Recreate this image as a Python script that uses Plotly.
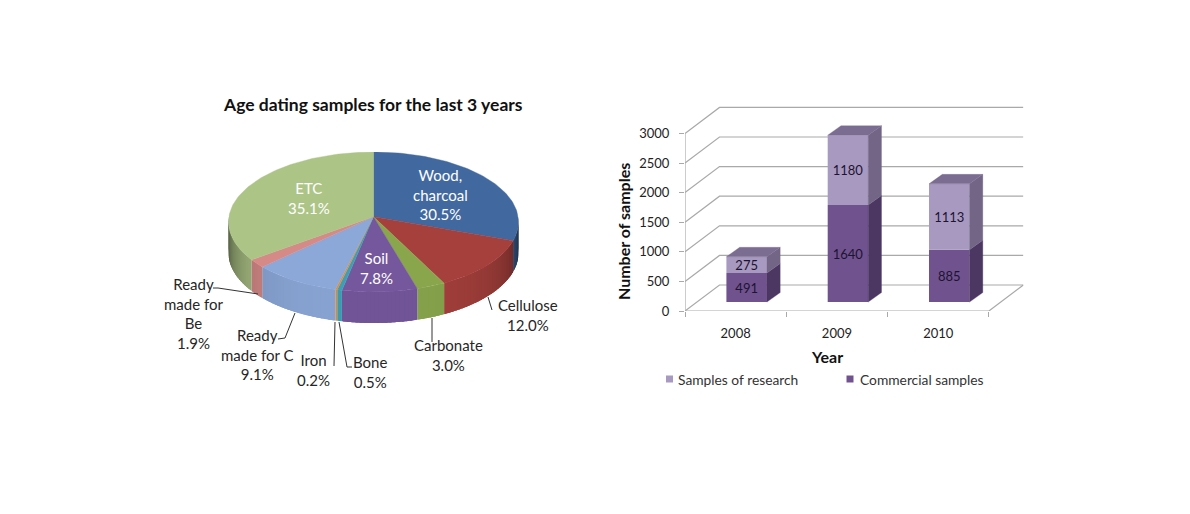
import math
import plotly.graph_objects as go

# ---------- data ----------
pie_names = ["Wood,<br>charcoal", "Cellulose", "Carbonate", "Soil", "Bone", "Iron",
             "Ready<br>made for C", "Ready<br>made for<br>Be", "ETC"]
pie_values = [30.5, 12.0, 3.0, 7.8, 0.5, 0.2, 9.1, 1.9, 35.1]
pie_colors = ["#41699f", "#a5403c", "#8aa64d", "#74579c", "#3b9fb8", "#e08e3c",
              "#8ca8d8", "#d68a88", "#adc487"]

years = ["2008", "2009", "2010"]
commercial = [491, 1640, 885]
research = [275, 1180, 1113]
y_ticks = [0, 500, 1000, 1500, 2000, 2500, 3000]

W, H = 1190, 514
PLOT_H = 506   # Plotly reserves 8px at the bottom of this page
FONT = "Lato"
DARK = "#222222"


def px(x):
    return x / W


def py(y):
    return 1 - y / PLOT_H


def rgb(c, f=1.0):
    r, g, b = int(c[1:3], 16), int(c[3:5], 16), int(c[5:7], 16)
    return f"rgb({int(r*f)},{int(g*f)},{int(b*f)})"


fig = go.Figure()

# ---------- pie (unit-circle space, squeezed by the axis domain) ----------
DEPTH = 31 / 70      # rim depth in radius units
APEX = 0.076         # apex is slightly above the ellipse centre (perspective)
total = sum(pie_values)


def rim(t):
    """Where the ray from the apex at angle t meets the rim."""
    dx, dy = math.sin(t), math.cos(t)
    s = -APEX * dy + math.sqrt((APEX * dy) ** 2 + 1 - APEX ** 2)
    return s * dx, APEX + s * dy


edges = [0]
for v in pie_values:
    edges.append(edges[-1] + v / total * 2 * math.pi)

# side wall, in overlapping strips so the shading can vary round the rim
OVERLAP = math.radians(1.2)
for i, c in enumerate(pie_colors):
    a, b = max(edges[i], math.pi / 2), min(edges[i + 1], 3 * math.pi / 2)
    if a >= b:
        continue
    n = max(1, int((b - a) / math.radians(1.5)))
    ordered = range(n) if a + b < 2 * math.pi else range(n - 1, -1, -1)
    for k in ordered:
        t0, t1 = a + (b - a) * k / n, a + (b - a) * (k + 1) / n
        phi = abs((t0 + t1) / 2 - math.pi) / (math.pi / 2)
        col = rgb(c, 0.97 - 0.72 * phi ** 3.5)
        t0 = max(a, t0 - OVERLAP)
        t1 = min(b, t1 + OVERLAP)
        x0, y0 = rim(t0)
        x1, y1 = rim(t1)
        fig.add_trace(go.Scatter(
            x=[x0, x1, x1, x0, x0], y=[y0, y1, y1 - DEPTH, y0 - DEPTH, y0],
            mode="none", fill="toself", fillcolor=col,
            hoverinfo="skip", showlegend=False, xaxis="x", yaxis="y"))

# top face
for i, c in enumerate(pie_colors):
    n = max(2, int((edges[i + 1] - edges[i]) / math.radians(1.5)))
    ts = [edges[i] + (edges[i + 1] - edges[i]) * k / n for k in range(n + 1)]
    xs = [0] + [rim(t)[0] for t in ts] + [0]
    ys = [APEX] + [rim(t)[1] for t in ts] + [APEX]
    fig.add_trace(go.Scatter(
        x=xs, y=ys, mode="lines", fill="toself", fillcolor=c,
        line=dict(color=c, width=0.4), name=pie_names[i].replace("<br>", " "),
        showlegend=False, xaxis="x", yaxis="y"))

# ---------- stacked bars ----------
UNIT_X = 101.3                  # pixels per category
UNIT_Y = 0.0592                 # pixels per sample
WALL_DX, WALL_DY = 34.5 / UNIT_X, 26 / UNIT_Y
BAR_DX, BAR_DY = 13.3 / UNIT_X, 9.5 / UNIT_Y
FLOOR = 150                     # bars stand part-way back on the floor
BAR_SHIFT, BAR_W = 11 / UNIT_X, 40.5 / UNIT_X
GRID = "#a9a9a9"
xpos = list(range(len(years)))
xleft, xright = -0.5, len(years) - 0.5

# walls and floor
for t in y_ticks:
    fig.add_trace(go.Scatter(
        x=[xleft, xleft + WALL_DX, xright + WALL_DX], y=[t, t + WALL_DY, t + WALL_DY],
        mode="lines", line=dict(color=GRID, width=1.2), hoverinfo="skip",
        showlegend=False, xaxis="x2", yaxis="y2", zorder=1))
fig.add_trace(go.Scatter(
    x=[xleft, xleft, None, xleft, xright, xright + WALL_DX],
    y=[max(y_ticks), 0, None, 0, 0, WALL_DY],
    mode="lines", line=dict(color=GRID, width=1.2), hoverinfo="skip",
    showlegend=False, xaxis="x2", yaxis="y2", zorder=1))

series = [("Commercial samples", commercial, "#70528f", "#4b3762"),
          ("Samples of research", research, "#a899c1", "#726586")]
base = [FLOOR] * len(years)
for name, vals, front, side in series:
    bx = [x + BAR_SHIFT for x in xpos]
    fig.add_trace(go.Bar(
        x=bx, y=vals, base=base, width=BAR_W, name=name, marker=dict(color=front, line_width=0),
        text=[str(v) for v in vals], textposition="inside", insidetextanchor="middle",
        textangle=0, constraintext="none",
        textfont=dict(family=FONT, size=13, color="#1d1430"),
        showlegend=False, xaxis="x2", yaxis="y2", zorder=2))
    for x, v, b in zip(bx, vals, base):
        r = x + BAR_W / 2
        fig.add_trace(go.Scatter(
            x=[r, r + BAR_DX, r + BAR_DX, r, r],
            y=[b, b + BAR_DY, b + v + BAR_DY, b + v, b],
            mode="lines", fill="toself", fillcolor=side, line=dict(color=side, width=0.3),
            hoverinfo="skip", showlegend=False, xaxis="x2", yaxis="y2", zorder=3))
    base = [b + v for b, v in zip(base, vals)]
for x, b in zip(xpos, base):
    l, r = x + BAR_SHIFT - BAR_W / 2, x + BAR_SHIFT + BAR_W / 2
    fig.add_trace(go.Scatter(
        x=[l, r, r + BAR_DX, l + BAR_DX, l], y=[b, b, b + BAR_DY, b + BAR_DY, b],
        mode="lines", fill="toself", fillcolor="#7b6c91", line=dict(color="#7b6c91", width=0.3),
        hoverinfo="skip", showlegend=False, xaxis="x2", yaxis="y2", zorder=3))

# ---------- text ----------
ann = []


def label(x, y, text, size=15, color="#262626", bold=False, angle=0):
    ann.append(dict(xref="paper", yref="paper", x=px(x), y=py(y), text=f"<b>{text}</b>" if bold else text,
                    showarrow=False, xanchor="center", yanchor="middle", align="center",
                    textangle=angle, font=dict(family=FONT, size=size, color=color)))


label(372.5, 104, "Age dating samples for the last 3 years", size=17.5, color="#111111", bold=True)


def pct(i):
    return f"{pie_values[i]:.1f}%"


pie_label_pos = [(440, 194, "white"), (528, 315, "#262626"), (448, 355, "#262626"), (376, 268, "white"),
                 (370, 372, "#262626"), (313, 370, "#262626"), (257, 354, "#262626"),
                 (193, 313, "#262626"), (309, 198, "white")]
for i, (x, y, c) in enumerate(pie_label_pos):
    label(x, y, pie_names[i] + "<br>" + pct(i), color=c)

label(623, 232, "Number of samples", size=16, color="#111111", bold=True, angle=-90)
label(827, 356, "Year", size=16, color="#111111", bold=True)

# hand-made legend row
shapes = []
for sx, tx, (name, col) in zip([669.5, 850], [676, 858],
                               [("Samples of research", "#a899c1"), ("Commercial samples", "#70528f")]):
    shapes.append(dict(type="rect", xref="paper", yref="paper", x0=px(sx - 3.5), x1=px(sx + 3.5),
                       y0=py(379 + 3.5), y1=py(379 - 3.5), fillcolor=col, line_width=0))
    ann.append(dict(xref="paper", yref="paper", x=px(tx), y=py(379), text=name, showarrow=False,
                    xanchor="left", yanchor="middle", font=dict(family=FONT, size=13.8, color="#333333")))

# leader lines
leaders = [[(213, 288), (218, 288), (258, 294)],
           [(278, 339), (285, 338), (295, 313)],
           [(334, 366), (335, 322)],
           [(352, 367), (347, 367), (339, 322)],
           [(432, 318), (432, 342)],
           [(488, 297), (492, 310)]]
for pts in leaders:
    for (x0, y0), (x1, y1) in zip(pts, pts[1:]):
        shapes.append(dict(type="line", xref="paper", yref="paper", x0=px(x0), y0=py(y0), x1=px(x1), y1=py(y1),
                           line=dict(color="#333333", width=1)))

# ---------- layout ----------
PIE_TOP, PIE_BOT = 152, 292
PIE_LOW = -1.6
pie_low_px = PIE_BOT + (-1 - PIE_LOW) * (PIE_BOT - PIE_TOP) / 2
Y_ZERO, Y_TOP = 311, 100

fig.update_layout(
    width=W, height=H, margin=dict(l=0, r=0, t=0, b=0),
    paper_bgcolor="white", plot_bgcolor="white", showlegend=False, barmode="overlay",
    font=dict(family=FONT),
    annotations=ann, shapes=shapes,
    xaxis=dict(domain=[px(228.5), px(518.5)], range=[-1, 1], visible=False, fixedrange=True),
    yaxis=dict(domain=[py(pie_low_px), py(PIE_TOP)], range=[PIE_LOW, 1], visible=False, fixedrange=True),
    xaxis2=dict(domain=[px(685), px(685 + 3 * UNIT_X + 34.5)], range=[xleft, xright + WALL_DX],
                tickmode="array", tickvals=xpos, ticktext=years, ticks="", showgrid=False, zeroline=False,
                showline=False, anchor="y2", ticklabelstandoff=13,
                tickfont=dict(family=FONT, size=13, color=DARK),
                minor=dict(tickmode="array", tickvals=[-0.5, 0.5, 1.5, 2.5], ticks="outside", ticklen=5,
                           tickcolor=GRID, tickwidth=1, showgrid=False)),
    yaxis2=dict(domain=[py(Y_ZERO), py(Y_TOP)], range=[0, (Y_ZERO - Y_TOP) / UNIT_Y],
                tickmode="array", tickvals=y_ticks, ticks="outside", ticklen=5, tickcolor=GRID, tickwidth=1,
                showgrid=False, zeroline=False, showline=False, anchor="x2", ticklabelstandoff=7,
                tickfont=dict(family=FONT, size=13, color=DARK)),
)

fig.write_html("out.html", config={"displayModeBar": False},
               post_script="document.body.style.margin='0';document.documentElement.style.overflow='hidden';")
